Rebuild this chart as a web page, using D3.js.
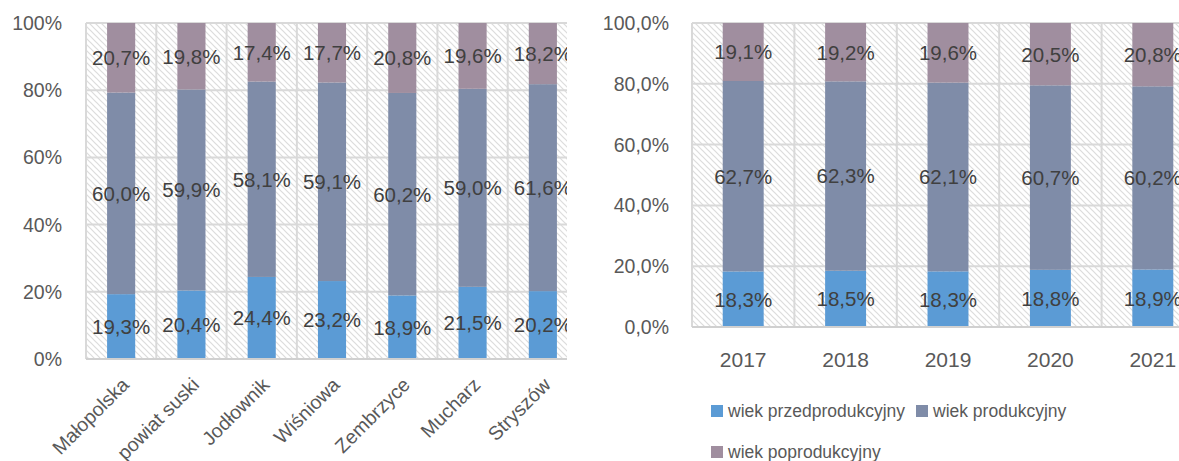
<!DOCTYPE html>
<html>
<head>
<meta charset="utf-8">
<script src="https://cdn.jsdelivr.net/npm/d3@7"></script>
<style>
  body { margin: 0; background: #fff; }
  svg { display: block; font-family: "Liberation Sans", Arial, sans-serif; }
</style>
</head>
<body>
<svg id="svg_main" width="1179" height="461"></svg>
<script>
// left chart: gminy
const gminy = ['Małopolska', 'powiat suski', 'Jodłownik', 'Wiśniowa', 'Zembrzyce', 'Mucharz', 'Stryszów'];
const gPrzed = [19.3, 20.4, 24.4, 23.2, 18.9, 21.5, 20.2];
const gProd = [60.0, 59.9, 58.1, 59.1, 60.2, 59.0, 61.6];
const gPoprod = [20.7, 19.8, 17.4, 17.7, 20.8, 19.6, 18.2];
const gTicks = [0, 20, 40, 60, 80, 100];

// right chart: years
const lata = ['2017', '2018', '2019', '2020', '2021'];
const lPrzed = [18.3, 18.5, 18.3, 18.8, 18.9];
const lProd = [62.7, 62.3, 62.1, 60.7, 60.2];
const lPoprod = [19.1, 19.2, 19.6, 20.5, 20.8];
const lTicks = [0, 20, 40, 60, 80, 100];

const series = ['wiek przedprodukcyjny', 'wiek produkcyjny', 'wiek poprodukcyjny'];
const colors = ['#5B9BD5', '#7F8CA8', '#A08E9F'];

const svg = d3.select('#svg_main');
const fmt = v => d3.format('.1f')(v).replace('.', ',') + '%';

// hatch pattern for plot background
const defs = svg.append('defs');
defs.append('pattern')
    .attr('id', 'hatch')
    .attr('patternUnits', 'userSpaceOnUse')
    .attr('width', 6).attr('height', 6)
    .call(p => {
        p.append('rect').attr('width', 6).attr('height', 6).attr('fill', '#fff');
        p.append('path').attr('d', 'M-1,-1 L7,7 M-1,5 L1,7 M5,-1 L7,1')
            .attr('stroke', '#dcdcdc').attr('stroke-width', 1.2);
    });

function drawChart({cats, vals, ticks, x0, x1, clipX, y0, y1, tickFmt, labelX, rotate}) {
    const g = svg.append('g');
    defs.append('clipPath').attr('id', 'clip' + x0)
        .append('rect').attr('x', 0).attr('y', 0).attr('width', clipX).attr('height', 461);
    g.attr('clip-path', `url(#clip${x0})`);

    const x = d3.scaleBand().domain(cats).range([x0, x1]).paddingInner(0).paddingOuter(0);
    const y = d3.scaleLinear().domain([0, 100]).range([y1, y0]);

    g.append('rect').attr('x', x0).attr('y', y0).attr('width', x1 - x0).attr('height', y1 - y0)
        .attr('fill', 'url(#hatch)');

    // grid
    g.append('g').selectAll('line').data(ticks).join('line')
        .attr('x1', x0).attr('x2', x1)
        .attr('y1', d => y(d)).attr('y2', d => y(d))
        .attr('stroke', '#d9d9d9').attr('stroke-width', 2);
    g.append('g').selectAll('line').data(cats.concat(['_end'])).join('line')
        .attr('x1', (d, i) => x0 + i * x.bandwidth()).attr('x2', (d, i) => x0 + i * x.bandwidth())
        .attr('y1', y0).attr('y2', y1)
        .attr('stroke', '#d9d9d9').attr('stroke-width', 2);

    // stacked data
    const rows = cats.map((c, i) => {
        const tot = vals[0][i] + vals[1][i] + vals[2][i];
        return {cat: c, v: vals.map(s => s[i]), n: vals.map(s => s[i] / tot * 100)};
    });
    const bw = x.bandwidth() * 0.4;
    rows.forEach(r => {
        let acc = 0;
        r.n.forEach((nv, k) => {
            const cx = x(r.cat) + x.bandwidth() / 2;
            g.append('rect')
                .attr('x', cx - bw / 2).attr('width', bw)
                .attr('y', y(acc + nv)).attr('height', y(acc) - y(acc + nv))
                .attr('fill', colors[k]);
            r['mid' + k] = acc + nv / 2;
            acc += nv;
        });
    });
    rows.forEach(r => {
        const cx = x(r.cat) + x.bandwidth() / 2;
        r.v.forEach((v, k) => {
            g.append('text')
                .attr('x', cx).attr('y', y(r['mid' + k]))
                .attr('dy', '0.36em')
                .attr('text-anchor', 'middle')
                .attr('font-size', 20.5).attr('fill', '#404040')
                .text(fmt(v));
        });
    });

    // bottom axis line
    g.append('line').attr('x1', x0).attr('x2', x1).attr('y1', y1).attr('y2', y1)
        .attr('stroke', '#d0d0d0').attr('stroke-width', 2);

    // y tick labels
    svg.append('g').selectAll('text').data(ticks).join('text')
        .attr('x', labelX).attr('y', d => y(d)).attr('dy', '0.36em')
        .attr('text-anchor', 'end').attr('font-size', 19.5).attr('fill', '#595959')
        .text(tickFmt);

    // x labels
    const xl = svg.append('g').selectAll('text').data(cats).join('text')
        .attr('fill', '#595959').text(d => d);
    if (rotate) {
        xl.attr('text-anchor', 'end').attr('font-size', 19.5)
          .attr('transform', d => `translate(${x(d) + x.bandwidth() / 2 + 9},${y1 + 27}) rotate(-45)`);
    } else {
        xl.attr('text-anchor', 'middle').attr('font-size', 21)
          .attr('x', d => x(d) + x.bandwidth() / 2).attr('y', y1 + 32).attr('dy', '0.36em');
    }
    return x;
}

drawChart({cats: gminy, vals: [gPrzed, gProd, gPoprod], ticks: gTicks,
    x0: 86, x1: 578, clipX: 567, y0: 23, y1: 359, labelX: 62,
    tickFmt: d => d + '%', rotate: true});

drawChart({cats: lata, vals: [lPrzed, lProd, lPoprod], ticks: lTicks,
    x0: 692, x1: 1204, clipX: 1179, y0: 23, y1: 327, labelX: 669,
    tickFmt: d => d3.format('.1f')(d).replace('.', ',') + '%', rotate: false});

// legend
const legPos = [[711, 411], [916, 411], [711, 452]];
const leg = svg.append('g').selectAll('g').data(series).join('g')
    .attr('transform', (d, i) => `translate(${legPos[i][0]},${legPos[i][1]})`);
leg.append('rect').attr('x', 0).attr('y', -6).attr('width', 12).attr('height', 12)
    .attr('fill', (d, i) => colors[i]);
leg.append('text').attr('x', 17).attr('dy', '0.36em').attr('font-size', 17.5).attr('fill', '#595959')
    .text(d => d);
</script>
</body>
</html>
